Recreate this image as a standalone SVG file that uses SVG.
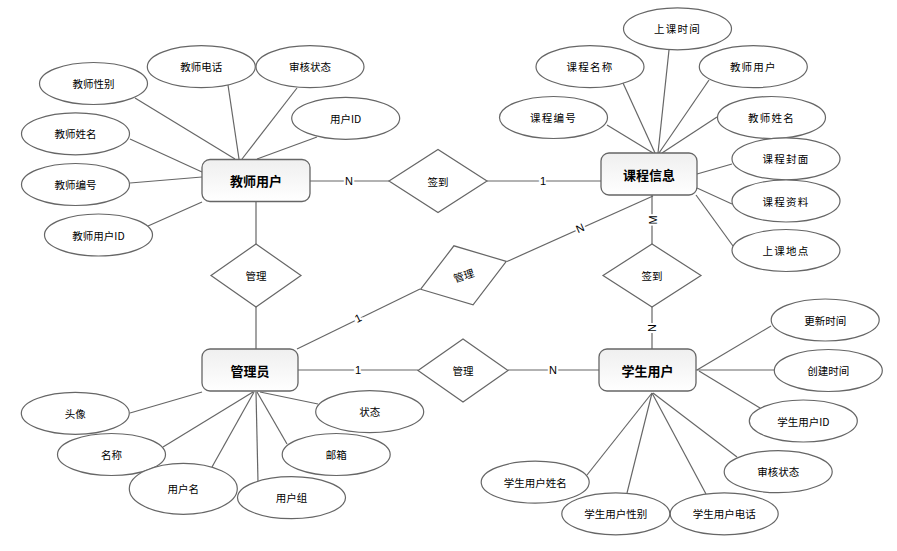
<svg xmlns="http://www.w3.org/2000/svg" width="897" height="551" viewBox="0 0 897 551">
<defs>
<linearGradient id="eg" x1="0" y1="0" x2="0" y2="1">
<stop offset="0" stop-color="#efefef"/>
<stop offset="1" stop-color="#ffffff"/>
</linearGradient>
<style>
text { font-family: "Noto Sans CJK SC", "Liberation Sans", sans-serif; fill: #000; text-anchor: middle; dominant-baseline: central; }
.at { fill: #fff; stroke: #666; stroke-width: 1.2; }
.rl { fill: #fff; stroke: #666; stroke-width: 1.2; }
.en { fill: url(#eg); stroke: #666; stroke-width: 1.3; }
.t { font-size: 10.5px; }
.ts { font-size: 10.5px; letter-spacing: 1.2px; }
.et { font-size: 13px; font-weight: bold; }
.cn line { stroke: #666; stroke-width: 1.2; }
.lb { font-family: "Liberation Sans", sans-serif; font-size: 11px; stroke: #fff; stroke-width: 4; paint-order: stroke; }
</style>
</defs>
<rect width="897" height="551" fill="#fff"/>
<g id="connectors" class="cn">
<line x1="135" y1="98" x2="235" y2="159"/>
<line x1="228" y1="85" x2="239" y2="159"/>
<line x1="297" y1="88" x2="242" y2="159"/>
<line x1="317" y1="137" x2="257" y2="159"/>
<line x1="130" y1="139" x2="202" y2="172"/>
<line x1="130" y1="183" x2="202" y2="177"/>
<line x1="148" y1="226" x2="202" y2="202"/>
<line x1="669" y1="50" x2="658" y2="153"/>
<line x1="623" y1="83" x2="655" y2="153"/>
<line x1="709" y1="80" x2="659" y2="153"/>
<line x1="607" y1="125" x2="653" y2="153"/>
<line x1="717" y1="117" x2="662" y2="153"/>
<line x1="732" y1="164" x2="697" y2="174"/>
<line x1="732" y1="204" x2="697" y2="188"/>
<line x1="733" y1="246" x2="696" y2="195"/>
<line x1="130" y1="413" x2="202" y2="392"/>
<line x1="163" y1="447" x2="253" y2="392"/>
<line x1="212" y1="467" x2="254" y2="392"/>
<line x1="258" y1="482" x2="256" y2="392"/>
<line x1="287" y1="444" x2="257" y2="392"/>
<line x1="318" y1="404" x2="260" y2="392"/>
<line x1="771" y1="326" x2="697" y2="370"/>
<line x1="774" y1="370" x2="696" y2="370"/>
<line x1="760" y1="408" x2="699" y2="371"/>
<line x1="737" y1="457" x2="653" y2="393"/>
<line x1="706" y1="494" x2="652" y2="393"/>
<line x1="627" y1="493" x2="652" y2="393"/>
<line x1="587" y1="475" x2="652" y2="393"/>
<line x1="310" y1="181" x2="389" y2="181"/>
<line x1="487" y1="181" x2="601" y2="181"/>
<line x1="256" y1="202" x2="256" y2="244"/>
<line x1="256" y1="307" x2="256" y2="349"/>
<line x1="297" y1="349" x2="420" y2="289"/>
<line x1="507" y1="261.5" x2="653" y2="196"/>
<line x1="652" y1="195" x2="652" y2="244"/>
<line x1="652" y1="307" x2="652" y2="349"/>
<line x1="298" y1="370" x2="418" y2="370"/>
<line x1="508" y1="370" x2="599" y2="370"/>
<text class="lb" x="349" y="181">N</text>
<text class="lb" x="543" y="181">1</text>
<text class="lb" x="358" y="318" transform="rotate(-26 358 318)">1</text>
<text class="lb" x="580" y="228" transform="rotate(-24 580 228)">N</text>
<text class="lb" x="653" y="220" transform="rotate(-90 653 220)">M</text>
<text class="lb" x="652" y="328" transform="rotate(-90 652 328)">N</text>
<text class="lb" x="358" y="370">1</text>
<text class="lb" x="553" y="370">N</text>
</g>
<g id="teacher-attrs">
<g id="a-jsxb"><ellipse class="at" cx="93.5" cy="83.5" rx="54" ry="21"/><text class="t" x="93.5" y="83.5">教师性别</text></g>
<g id="a-jsdh"><ellipse class="at" cx="201.3" cy="66.7" rx="54" ry="21"/><text class="t" x="201.3" y="66.7">教师电话</text></g>
<g id="a-shzt1"><ellipse class="at" cx="310" cy="66.7" rx="54" ry="21"/><text class="t" x="310" y="66.7">审核状态</text></g>
<g id="a-yhid"><ellipse class="at" cx="345.7" cy="118.3" rx="54" ry="21"/><text class="t" x="345.7" y="118.3">用户ID</text></g>
<g id="a-jsxm"><ellipse class="at" cx="75.5" cy="133.8" rx="54" ry="21"/><text class="t" x="75.5" y="133.8">教师姓名</text></g>
<g id="a-jsbh"><ellipse class="at" cx="75.5" cy="184.5" rx="54" ry="21"/><text class="t" x="75.5" y="184.5">教师编号</text></g>
<g id="a-jsyhid"><ellipse class="at" cx="98.5" cy="235" rx="54" ry="21"/><text class="t" x="98.5" y="235">教师用户ID</text></g>
</g>
<g id="course-attrs">
<g id="a-sksj"><ellipse class="at" cx="677.5" cy="28.8" rx="54" ry="21"/><text class="ts" x="677.5" y="28.8">上课时间</text></g>
<g id="a-kcmc"><ellipse class="at" cx="590" cy="66.7" rx="54" ry="21"/><text class="ts" x="590" y="66.7">课程名称</text></g>
<g id="a-jsyh"><ellipse class="at" cx="753.3" cy="66.7" rx="54" ry="21"/><text class="ts" x="753.3" y="66.7">教师用户</text></g>
<g id="a-kcbh"><ellipse class="at" cx="553.5" cy="117.5" rx="54" ry="21"/><text class="ts" x="553.5" y="117.5">课程编号</text></g>
<g id="a-jsxm2"><ellipse class="at" cx="771.5" cy="117.5" rx="54" ry="21"/><text class="ts" x="771.5" y="117.5">教师姓名</text></g>
<g id="a-kcfm"><ellipse class="at" cx="786" cy="158.8" rx="54" ry="21"/><text class="ts" x="786" y="158.8">课程封面</text></g>
<g id="a-kczl"><ellipse class="at" cx="786" cy="201" rx="54" ry="21"/><text class="ts" x="786" y="201">课程资料</text></g>
<g id="a-skdd"><ellipse class="at" cx="786" cy="250.5" rx="54" ry="21"/><text class="ts" x="786" y="250.5">上课地点</text></g>
</g>
<g id="admin-attrs">
<g id="a-tx"><ellipse class="at" cx="75.3" cy="413.3" rx="54" ry="21"/><text class="t" x="75.3" y="413.3">头像</text></g>
<g id="a-mc"><ellipse class="at" cx="111.5" cy="454.5" rx="54" ry="21"/><text class="t" x="111.5" y="454.5">名称</text></g>
<g id="a-yhm"><ellipse class="at" cx="183.3" cy="488.8" rx="54" ry="25.5"/><text class="t" x="183.3" y="488.8">用户名</text></g>
<g id="a-yhz"><ellipse class="at" cx="291.5" cy="497.7" rx="54" ry="21"/><text class="t" x="291.5" y="497.7">用户组</text></g>
<g id="a-zt"><ellipse class="at" cx="369.7" cy="411.7" rx="54" ry="21"/><text class="t" x="369.7" y="411.7">状态</text></g>
<g id="a-yx"><ellipse class="at" cx="336.2" cy="454.5" rx="54" ry="21"/><text class="t" x="336.2" y="454.5">邮箱</text></g>
</g>
<g id="student-attrs">
<g id="a-gxsj"><ellipse class="at" cx="825.2" cy="320" rx="54" ry="21"/><text class="t" x="825.2" y="320">更新时间</text></g>
<g id="a-cjsj"><ellipse class="at" cx="828.3" cy="370.5" rx="54" ry="21"/><text class="t" x="828.3" y="370.5">创建时间</text></g>
<g id="a-xsyhid"><ellipse class="at" cx="803.3" cy="421" rx="54" ry="21"/><text class="t" x="803.3" y="421">学生用户ID</text></g>
<g id="a-shzt2"><ellipse class="at" cx="778.2" cy="471.7" rx="54" ry="21"/><text class="t" x="778.2" y="471.7">审核状态</text></g>
<g id="a-xsdh"><ellipse class="at" cx="724.2" cy="513.8" rx="54" ry="21"/><text class="t" x="724.2" y="513.8">学生用户电话</text></g>
<g id="a-xsxb"><ellipse class="at" cx="615.8" cy="513.8" rx="54" ry="21"/><text class="t" x="615.8" y="513.8">学生用户性别</text></g>
<g id="a-xsxm"><ellipse class="at" cx="535.2" cy="482.2" rx="54" ry="21"/><text class="t" x="535.2" y="482.2">学生用户姓名</text></g>
</g>
<g id="relations">
<g id="r-qd1"><polygon class="rl" points="389,181 438,149.5 487,181 438,212.5"/><text class="t" x="438" y="181">签到</text></g>
<g id="r-gl1"><polygon class="rl" points="211,275.5 256,244 301,275.5 256,307"/><text class="t" x="256" y="275.5">管理</text></g>
<g id="r-gl2" transform="rotate(-18 463.5 275.3)"><polygon class="rl" points="418.5,275.3 463.5,244.3 508.5,275.3 463.5,306.3"/><text class="t" x="463.5" y="275.3">管理</text></g>
<g id="r-qd2"><polygon class="rl" points="603,275.5 652,244 701,275.5 652,307"/><text class="t" x="652" y="275.5">签到</text></g>
<g id="r-gl3"><polygon class="rl" points="418,370.5 463,339 508,370.5 463,402"/><text class="t" x="463" y="370.5">管理</text></g>
</g>
<g id="entities">
<g id="e-teacher"><rect class="en" x="202" y="159.5" width="108" height="42" rx="8"/><text class="et" x="256" y="180.5">教师用户</text></g>
<g id="e-course"><rect class="en" x="601" y="153" width="96" height="42" rx="8"/><text class="et" x="649" y="174">课程信息</text></g>
<g id="e-admin"><rect class="en" x="202" y="349" width="96" height="42" rx="8"/><text class="et" x="250" y="370">管理员</text></g>
<g id="e-student"><rect class="en" x="599" y="349" width="97" height="42" rx="8"/><text class="et" x="647.5" y="370">学生用户</text></g>
</g>
</svg>
